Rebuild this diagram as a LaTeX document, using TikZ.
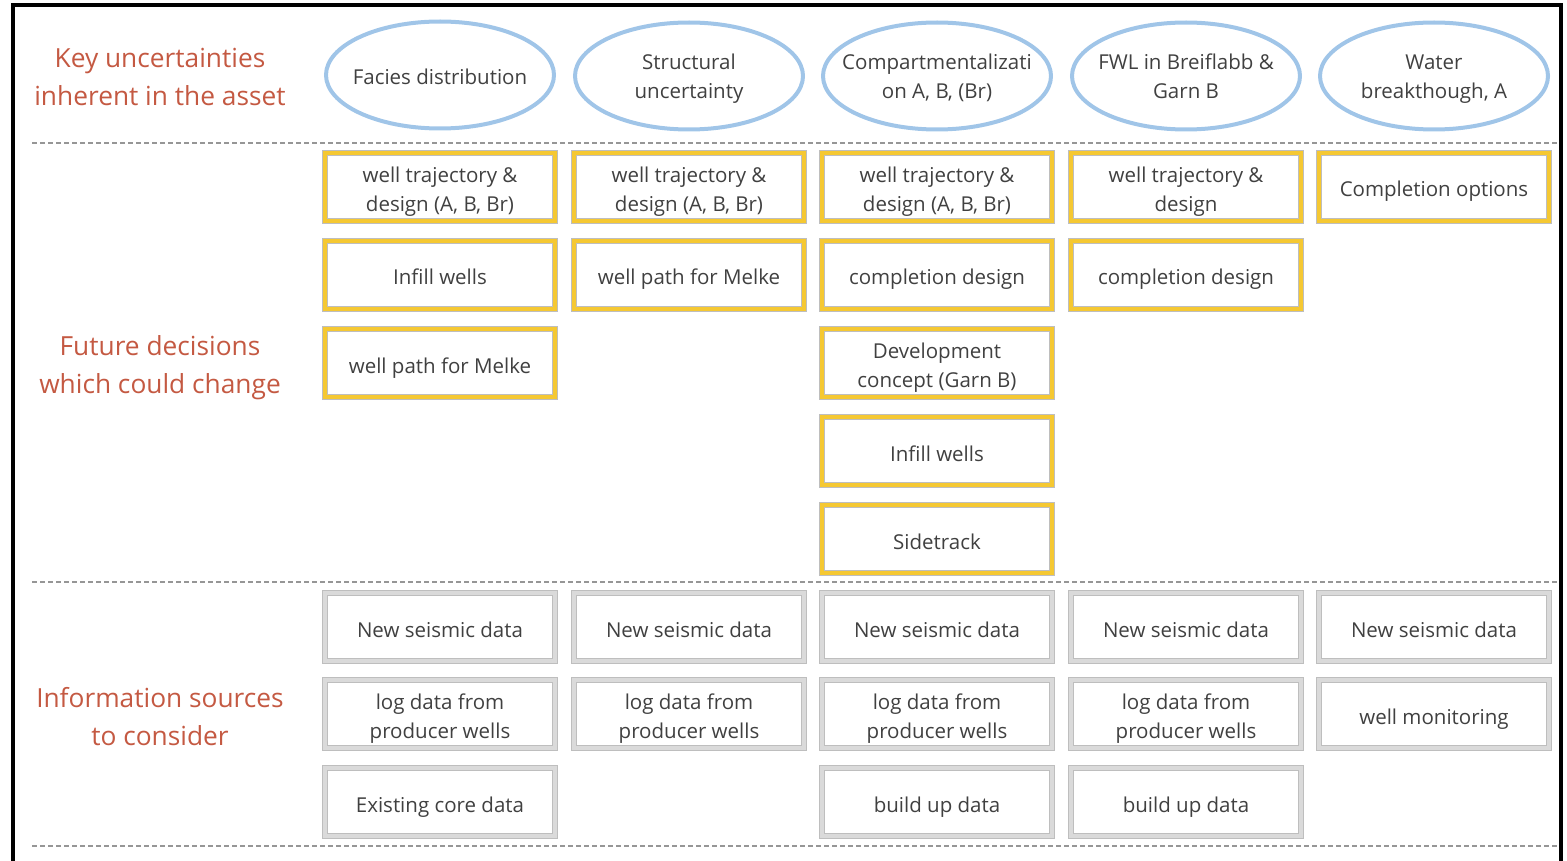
\documentclass[tikz,border=0pt]{standalone}
\usepackage{fontspec}
\setmainfont{Open Sans}
\usetikzlibrary{shapes.geometric}
\definecolor{labelred}{RGB}{196,89,66}
\definecolor{txtgray}{RGB}{64,64,64}
\definecolor{ellblue}{RGB}{160,197,232}
\definecolor{boxgold}{RGB}{245,200,50}
\definecolor{rimgray}{RGB}{190,190,190}
\definecolor{bandgray}{RGB}{218,218,218}
\definecolor{divgray}{RGB}{150,150,150}
\begin{document}
\begin{tikzpicture}[x=1pt,y=-1pt,
    every node/.style={font=\fontsize{20.5}{29}\selectfont, text=txtgray},
    oneline/.style={text height=20pt, text depth=0pt},
    twoline/.style={text height=49pt, text depth=0pt},
    uncert/.style={ellipse, draw=ellblue, line width=4pt, minimum width=228pt, minimum height=107pt, inner xsep=-60pt, inner ysep=0pt, align=center},
    uncerttwo/.style={uncert, text height=45pt, text depth=0pt},
    decision/.style={rectangle, preaction={draw=rimgray, line width=5.5pt}, draw=boxgold, line width=3.5pt, minimum width=230pt, minimum height=68pt, inner sep=0pt, align=center},
    source/.style={decision, draw=bandgray},
    rowlabel/.style={font=\fontsize{26.3}{38}\selectfont, text=labelred, align=center},
    divider/.style={draw=divgray, line width=1.1pt, dash pattern=on 5pt off 3pt}]
  \useasboundingbox (0,0) rectangle (1567,861);
  \draw[line width=4pt] (13,880) -- (13,5) -- (1561,5) -- (1561,880);
  \coordinate (d1w) at (32,143);  \coordinate (d1e) at (1559,143);
  \coordinate (d2w) at (32,582);  \coordinate (d2e) at (1559,582);
  \coordinate (d3w) at (32,846);  \coordinate (d3e) at (1559,846);
  \draw[divider] (d1w) -- (d1e);
  \draw[divider] (d2w) -- (d2e);
  \draw[divider] (d3w) -- (d3e);

  \node[rowlabel] (keyunc) at (160,77) {Key uncertainties\\inherent in the asset};
  \node[rowlabel] (futdec) at (160,368) {Future decisions\\which could change};
  \node[rowlabel] (infsrc) at (160,717) {Information sources\\to consider};

  \node[uncert,oneline] (u1) at (440,75) {Facies distribution};
  \node[uncerttwo] (u2) at (689,76) {Structural\\uncertainty};
  \node[uncerttwo] (u3) at (937,76) {Compartmentalizati\\on A, B, (Br)};
  \node[uncerttwo] (u4) at (1186,76) {FWL in Breiflabb \&\\Garn B};
  \node[uncerttwo] (u5) at (1434,76) {Water\\breakthough, A};

  \node[decision,twoline] (d11) at (440,187) {well trajectory \&\\design (A, B, Br)};
  \node[decision,oneline] (d12) at (440,275) {Infill wells};
  \node[decision,oneline] (d13) at (440,363) {well path for Melke};
  \node[decision,twoline] (d21) at (689,187) {well trajectory \&\\design (A, B, Br)};
  \node[decision,oneline] (d22) at (689,275) {well path for Melke};
  \node[decision,twoline] (d31) at (937,187) {well trajectory \&\\design (A, B, Br)};
  \node[decision,oneline] (d32) at (937,275) {completion design};
  \node[decision,twoline] (d33) at (937,363) {Development\\concept (Garn B)};
  \node[decision,oneline] (d34) at (937,451) {Infill wells};
  \node[decision,oneline] (d35) at (937,539) {Sidetrack};
  \node[decision,twoline] (d41) at (1186,187) {well trajectory \&\\design};
  \node[decision,oneline] (d42) at (1186,275) {completion design};
  \node[decision,oneline] (d51) at (1434,187) {Completion options};

  \node[source,oneline] (s11) at (440,627) {New seismic data};
  \node[source,twoline] (s12) at (440,714) {log data from\\producer wells};
  \node[source,oneline] (s13) at (440,802) {Existing core data};
  \node[source,oneline] (s21) at (689,627) {New seismic data};
  \node[source,twoline] (s22) at (689,714) {log data from\\producer wells};
  \node[source,oneline] (s31) at (937,627) {New seismic data};
  \node[source,twoline] (s32) at (937,714) {log data from\\producer wells};
  \node[source,oneline] (s33) at (937,802) {build up data};
  \node[source,oneline] (s41) at (1186,627) {New seismic data};
  \node[source,twoline] (s42) at (1186,714) {log data from\\producer wells};
  \node[source,oneline] (s43) at (1186,802) {build up data};
  \node[source,oneline] (s51) at (1434,627) {New seismic data};
  \node[source,oneline] (s52) at (1434,714) {well monitoring};
\end{tikzpicture}
\end{document}
